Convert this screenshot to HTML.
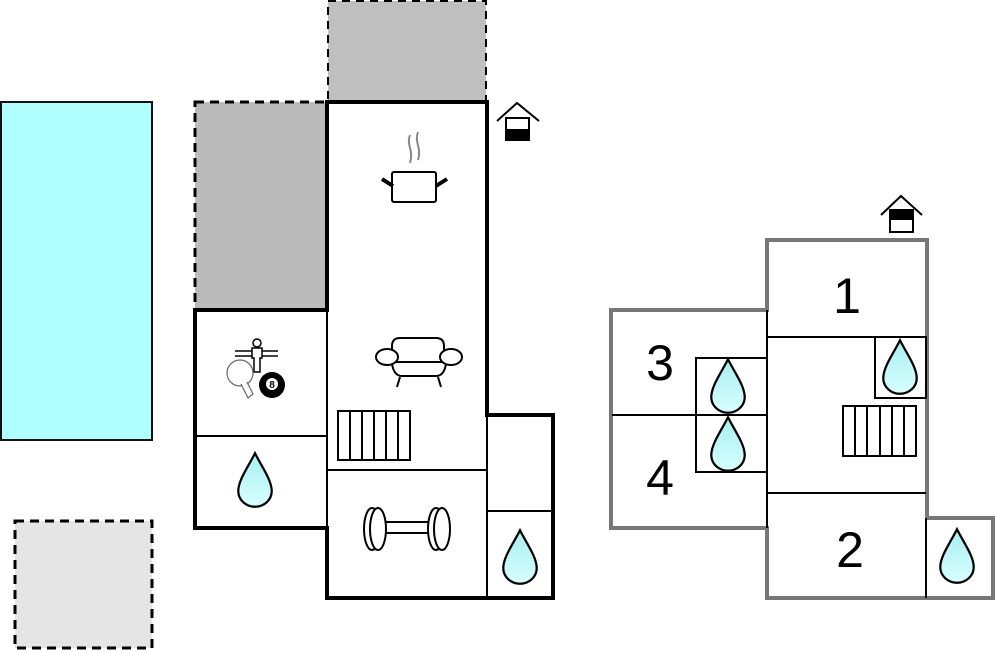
<!DOCTYPE html>
<html><head><meta charset="utf-8"><style>
html,body{margin:0;padding:0;background:#fff;width:995px;height:652px;overflow:hidden}
svg{display:block}
</style></head><body>
<svg width="995" height="652" viewBox="0 0 995 652" xmlns="http://www.w3.org/2000/svg">
<defs>
<linearGradient id="dg" x1="0" y1="0" x2="0" y2="1"><stop offset="0" stop-color="#a8eef0"/><stop offset="1" stop-color="#d8ffff"/></linearGradient>
<symbol id="drop" viewBox="-16 -26 32 52" overflow="visible"><path d="M0,-24 C6,-12 15,0 15,10 A15,14 0 0 1 -15,10 C-15,0 -6,-12 0,-24Z" fill="url(#dg)" stroke="#000" stroke-width="2"/></symbol>
</defs>
<rect x="1" y="102" width="151" height="338" fill="#b0ffff" stroke="#111" stroke-width="2"/>
<rect x="15" y="521" width="137" height="127" fill="#e5e5e5" stroke="#000" stroke-width="3" stroke-dasharray="9,6"/>
<rect x="328" y="1" width="158" height="101" fill="#bfbfbf" stroke="#000" stroke-width="2" stroke-dasharray="8,6"/>
<rect x="195" y="102" width="132" height="208" fill="#bbbbbb" stroke="#000" stroke-width="3" stroke-dasharray="9,6"/>
<polygon points="327,102 487,102 487,415 553,415 553,598 327,598 327,528 195,528 195,310 327,310" fill="#fff" stroke="#000" stroke-width="4"/>
<g stroke="#000" stroke-width="2" fill="none">
<line x1="327" y1="310" x2="327" y2="528"/>
<line x1="195" y1="436" x2="327" y2="436"/>
<line x1="327" y1="470" x2="487" y2="470"/>
<line x1="487" y1="415" x2="487" y2="598"/>
<line x1="487" y1="511" x2="553" y2="511"/>
<rect x="338" y="411" width="72" height="49"/>
<line x1="350" y1="411" x2="350" y2="460"/><line x1="362" y1="411" x2="362" y2="460"/><line x1="374" y1="411" x2="374" y2="460"/><line x1="386" y1="411" x2="386" y2="460"/><line x1="398" y1="411" x2="398" y2="460"/>
<rect x="392" y="172" width="44" height="30" rx="2"/>
<line x1="382" y1="179" x2="393" y2="186" stroke-width="4"/><line x1="447" y1="179" x2="436" y2="186" stroke-width="4"/>
<path d="M410,135 C406,145 414,150 410,163" stroke="#888"/><path d="M418,132 C414,142 422,148 418,160" stroke="#888"/>
<path d="M392,355 L392,346 Q392,338 400,338 L436,338 Q444,338 444,346 L444,355"/>
<ellipse cx="387" cy="357" rx="11" ry="8" fill="#fff"/><ellipse cx="451" cy="357" rx="11" ry="8" fill="#fff"/>
<line x1="396" y1="362" x2="442" y2="362"/>
<path d="M392,364 Q394,376 402,376 L436,376 Q444,376 446,364"/>
<line x1="400" y1="377" x2="397" y2="387"/><line x1="438" y1="377" x2="441" y2="387"/>
<rect x="380" y="522" width="52" height="11" rx="5" fill="#fff"/>
<ellipse cx="372" cy="529" rx="8" ry="21" fill="#fff"/><ellipse cx="378" cy="529" rx="8" ry="21" fill="#fff"/>
<ellipse cx="436" cy="529" rx="8" ry="21" fill="#fff"/><ellipse cx="442" cy="529" rx="8" ry="21" fill="#fff"/>
<line x1="235" y1="351" x2="278" y2="351" stroke-width="1.5"/><line x1="235" y1="356" x2="278" y2="356" stroke-width="1.5"/>
<circle cx="257" cy="343" r="4" stroke-width="1.5" fill="#fff"/>
<path d="M252,348 h10 v10 h-2 v14 h-6 v-14 h-2z" stroke-width="1.5" fill="#fff"/>
<circle cx="240" cy="373" r="13" stroke="#666" stroke-width="1.2" fill="#fff"/>
<path d="M241,384 L248,398 L253,394 L247,382" stroke="#666" stroke-width="1.2" fill="#fff"/>
</g>
<circle cx="272" cy="385" r="13" fill="#000"/><circle cx="272" cy="384" r="6" fill="#fff"/>
<text x="272" y="388" font-family="Liberation Sans, sans-serif" font-size="10" font-weight="bold" text-anchor="middle">8</text>
<use href="#drop" x="237" y="451" width="36" height="58"/>
<use href="#drop" x="502" y="528" width="36" height="58"/>
<g stroke="#000" stroke-width="2" fill="none"><polyline points="497,121 517,103 539,121"/><rect x="506" y="118" width="23" height="22" fill="#fff"/></g>
<rect x="506" y="129" width="23" height="11" fill="#000"/>
<polygon points="767,240 927,240 927,518 993,518 993,598 767,598 767,528 611,528 611,310 767,310" fill="#fff" stroke="#777" stroke-width="4"/>
<g stroke="#000" stroke-width="2" fill="none">
<line x1="767" y1="310" x2="767" y2="528"/>
<line x1="767" y1="337" x2="927" y2="337"/>
<rect x="875" y="337" width="51" height="61"/>
<line x1="767" y1="493" x2="926" y2="493"/>
<line x1="926" y1="518" x2="926" y2="598"/>
<line x1="612" y1="415" x2="767" y2="415"/>
<rect x="696" y="358" width="71" height="114"/>
<rect x="843" y="406" width="73" height="50"/>
<line x1="855" y1="406" x2="855" y2="456"/><line x1="867" y1="406" x2="867" y2="456"/><line x1="880" y1="406" x2="880" y2="456"/><line x1="892" y1="406" x2="892" y2="456"/><line x1="904" y1="406" x2="904" y2="456"/>
</g>
<use href="#drop" x="882" y="338" width="36" height="58"/>
<use href="#drop" x="710" y="357" width="36" height="58"/>
<use href="#drop" x="710" y="415" width="36" height="58"/>
<use href="#drop" x="939" y="527" width="36" height="58"/>
<g font-family="Liberation Sans, sans-serif" font-size="50" text-anchor="middle" fill="#000">
<text x="847" y="313">1</text><text x="660" y="380">3</text><text x="660" y="495">4</text><text x="850" y="567">2</text>
</g>
<g stroke="#000" stroke-width="2" fill="none"><polyline points="881,215 901,196 922,215"/><rect x="890" y="210" width="23" height="22" fill="#fff"/></g>
<rect x="890" y="210" width="23" height="10" fill="#000"/>
</svg>
</body></html>
